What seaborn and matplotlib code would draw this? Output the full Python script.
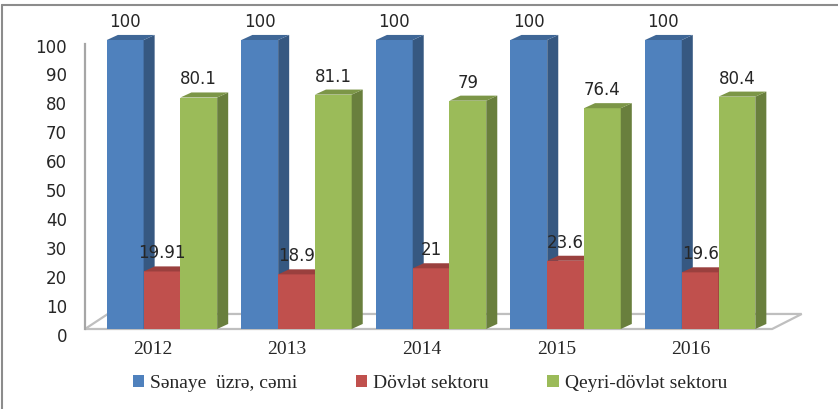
import matplotlib
matplotlib.use("Agg")
import matplotlib.pyplot as plt
import matplotlib.colors as mcolors
import matplotlib.transforms as mtransforms
from matplotlib.patches import Polygon, Patch
from matplotlib.lines import Line2D
import numpy as np
import pandas as pd
import seaborn as sns

# Məlumatlar
years = ["2012", "2013", "2014", "2015", "2016"]
series = ["Sənaye  üzrə, cəmi", "Dövlət sektoru", "Qeyri-dövlət sektoru"]
total = [100, 100, 100, 100, 100]
state = [19.91, 18.9, 21, 23.6, 19.6]
private = [80.1, 81.1, 79, 76.4, 80.4]
labels = [["100"] * 5,
          ["19.91", "18.9", "21", "23.6", "19.6"],
          ["80.1", "81.1", "79", "76.4", "80.4"]]
colors = ["#4F81BD", "#C0504D", "#9BBB59"]

df = pd.DataFrame({
    "il": years * 3,
    "seriya": [s for s in series for _ in years],
    "deyer": total + state + private,
})

sns.set_style("white")
plt.rcParams["font.family"] = ["DejaVu Sans"]

fig = plt.figure(figsize=(8.38, 4.09), dpi=100)
ax = fig.add_axes([0.1014, 0.1956, 0.820, 0.7066])

sns.barplot(data=df, x="il", y="deyer", hue="seriya", hue_order=series,
            palette=colors, width=0.82, saturation=1, legend=False, ax=ax)

ax.set_ylim(0, 100)
ax.set_xlim(-0.5725, 4.535)

# 3D effekti
dx, dy = 0.082, 1.75
for i, cont in enumerate(ax.containers):
    side = tuple(c * 0.68 for c in mcolors.to_rgb(colors[i]))
    topc = tuple(c * 0.8 for c in mcolors.to_rgb(colors[i]))
    for p in cont.patches:
        x, w, h = p.get_x(), p.get_width(), p.get_height()
        p.set_zorder(3 + i)
        p.set_clip_on(False)
        p.set_edgecolor("none")
        ax.add_patch(Polygon([(x + w, 0), (x + w + dx, dy), (x + w + dx, h + dy), (x + w, h)],
                             closed=True, facecolor=side, edgecolor="none",
                             zorder=3 + i, clip_on=False))
        ax.add_patch(Polygon([(x, h), (x + dx, h + dy), (x + w + dx, h + dy), (x + w, h)],
                             closed=True, facecolor=topc, edgecolor="none",
                             zorder=3 + i, clip_on=False))
    ax.bar_label(cont, labels=labels[i], padding=6.5, fontsize=12,
                 annotation_clip=False, zorder=10)

# döşəmə
x0, x1 = ax.get_xlim()
fdx, fdy = 0.17, 5.2
floor = Polygon([(x0, 0), (x0 + fdx, fdy), (x1 + 0.22, fdy), (x1, 0)], closed=True,
                facecolor="white", edgecolor="#BFBFBF", linewidth=1.6,
                zorder=1, clip_on=False)
ax.add_patch(floor)

for s in ["top", "right", "bottom"]:
    ax.spines[s].set_visible(False)
ax.spines["left"].set_color("#A6A6A6")
ax.spines["left"].set_linewidth(1.6)
ax.spines["left"].set_bounds(0, 98.5)

ax.set_yticks(range(0, 101, 10))
ax.tick_params(axis="y", length=0, pad=13, labelsize=12)
shift = mtransforms.ScaledTranslation(0, -4 / 72, fig.dpi_scale_trans)
for t in ax.get_yticklabels():
    t.set_transform(t.get_transform() + shift)

ax.set_xticks(np.arange(len(years)) - 0.07, years)
ax.tick_params(axis="x", length=0, pad=9)
for t in ax.get_xticklabels():
    t.set_fontfamily("Liberation Serif")
    t.set_fontsize(14)
ax.set_xlabel("")
ax.set_ylabel("")

handles = [Patch(facecolor=c, edgecolor="none") for c in colors]
fig.legend(handles, series, loc="center", bbox_to_anchor=(0.513, 0.062), ncol=3,
           frameon=False, handlelength=0.6, handleheight=0.6, handletextpad=0.3,
           columnspacing=3.0, prop={"family": "Liberation Serif", "size": 14})

# çərçivə
fig.add_artist(Line2D([0.0024, 1.0], [0.988, 0.988], color="#8C8C8C", linewidth=1.5))
fig.add_artist(Line2D([0.0024, 0.0024], [0.0, 0.988], color="#8C8C8C", linewidth=1.5))

fig.savefig("out.png", dpi=100)
